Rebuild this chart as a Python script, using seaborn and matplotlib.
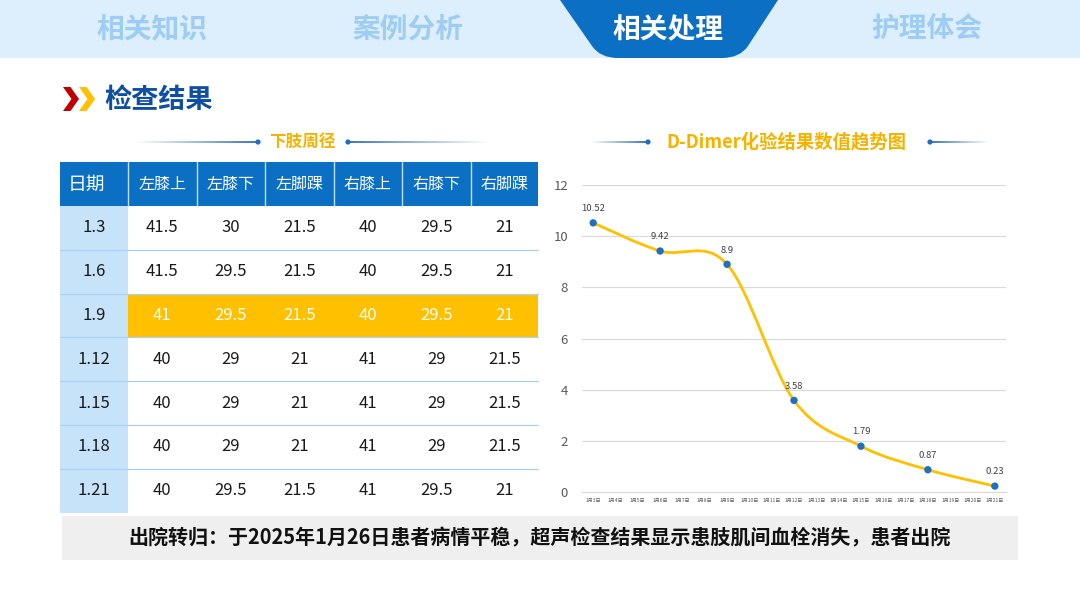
import numpy as np
import pandas as pd
import matplotlib
matplotlib.use("Agg")
import matplotlib.pyplot as plt
import seaborn as sns
from matplotlib.path import Path
from matplotlib.patches import PathPatch, Rectangle, Polygon, Circle
from matplotlib.collections import LineCollection
from matplotlib.colors import to_rgba

# ---------------- data ----------------
tabs = ["相关知识", "案例分析", "相关处理", "护理体会"]
active_tab = "相关处理"
page_title = "检查结果"
table_title = "下肢周径"
chart_title = "D-Dimer化验结果数值趋势图"

table_header = ["日期", "左膝上", "左膝下", "左脚踝", "右膝上", "右膝下", "右脚踝"]
table_dates = ["1.3", "1.6", "1.9", "1.12", "1.15", "1.18", "1.21"]
left_above_knee = [41.5, 41.5, 41, 40, 40, 40, 40]
left_below_knee = [30, 29.5, 29.5, 29, 29, 29, 29.5]
left_ankle = [21.5, 21.5, 21.5, 21, 21, 21, 21.5]
right_above_knee = [40, 40, 40, 41, 41, 41, 41]
right_below_knee = [29.5, 29.5, 29.5, 29, 29, 29, 29.5]
right_ankle = [21, 21, 21, 21.5, 21.5, 21.5, 21]
highlight_date = "1.9"

x_labels = ["1月3日", "1月4日", "1月5日", "1月6日", "1月7日", "1月8日", "1月9日",
            "1月10日", "1月11日", "1月12日", "1月13日", "1月14日", "1月15日",
            "1月16日", "1月17日", "1月18日", "1月19日", "1月20日", "1月21日"]
ddimer_days = ["1月3日", "1月6日", "1月9日", "1月12日", "1月15日", "1月18日", "1月21日"]
ddimer_values = [10.52, 9.42, 8.9, 3.58, 1.79, 0.87, 0.23]
y_ticks = [0, 2, 4, 6, 8, 10, 12]

footer_text = "出院转归：于2025年1月26日患者病情平稳，超声检查结果显示患肢肌间血栓消失，患者出院"

# ---------------- style ----------------
sns.set_theme(style="white")
plt.rcParams["font.family"] = ["Noto Sans CJK SC", "DejaVu Sans"]

BLUE = "#0B6FC3"
LIGHT_BAND = "#DDEEFC"
TAB_TEXT = "#9ECDF3"
TITLE_BLUE = "#0F4FA3"
GOLD = "#FFC000"
FIRST_COL = "#C6E3FA"
ROW_LINE = "#A8D1F2"

fig = plt.figure(figsize=(10.8, 6.08), dpi=100)
fig.patch.set_facecolor("white")

# overlay axes in pixel coordinates
bg = fig.add_axes([0, 0, 1, 1])
bg.set_xlim(0, 1080)
bg.set_ylim(608, 0)
bg.axis("off")

# top band
bg.add_patch(Rectangle((0, 0), 1080, 58, facecolor=LIGHT_BAND, edgecolor="none"))
# active tab shape
verts = [(560, 0), (592, 46), (600, 58), (618, 58), (722, 58), (740, 58), (748, 46), (778, 0), (560, 0)]
codes = [Path.MOVETO, Path.LINETO, Path.CURVE3, Path.CURVE3, Path.LINETO, Path.CURVE3, Path.CURVE3,
         Path.LINETO, Path.CLOSEPOLY]
bg.add_patch(PathPatch(Path(verts, codes), facecolor=BLUE, edgecolor="none"))
tab_x = [152, 408, 668, 927]
for t, x in zip(tabs, tab_x):
    bg.text(x, 30, t, ha="center", va="center", fontsize=20, fontweight="bold",
            color="white" if t == active_tab else TAB_TEXT)

# chevrons + page title
bg.add_patch(Polygon([(63, 87), (70.5, 87), (79, 99), (70.5, 111), (63, 111), (71.5, 99)],
                     closed=True, facecolor="#C00000", edgecolor="none"))
bg.add_patch(Polygon([(79, 87), (86.5, 87), (95, 99), (86.5, 111), (79, 111), (87.5, 99)],
                     closed=True, facecolor=GOLD, edgecolor="none"))
bg.text(104, 100, page_title, ha="left", va="center", fontsize=19.5, fontweight="bold", color=TITLE_BLUE)


def grad_line(x0, x1, y, fade_left):
    xs = np.linspace(x0, x1, 60)
    segs = [[(xs[i], y), (xs[i + 1], y)] for i in range(len(xs) - 1)]
    a = np.linspace(0.0, 1.0, len(segs))
    if not fade_left:
        a = a[::-1]
    cols = [to_rgba("#2E6DB4", v) for v in a]
    bg.add_collection(LineCollection(segs, colors=cols, linewidths=1.3))


def deco_title(text, cx, y, left_x0, left_x1, right_x0, right_x1, size):
    bg.text(cx, y, text, ha="center", va="center", fontsize=size, fontweight="bold", color="#F5B300")
    grad_line(left_x0, left_x1, y, True)
    grad_line(right_x0, right_x1, y, False)
    bg.add_patch(Circle((left_x1 + 2, y), 2.6, facecolor="#1F6FC0", edgecolor="none"))
    bg.add_patch(Circle((right_x0 - 2, y), 2.6, facecolor="#1F6FC0", edgecolor="none"))


deco_title(table_title, 302, 142, 135, 256, 350, 490, 12)
deco_title(chart_title, 786, 142, 590, 646, 932, 990, 13.2)

# ---------------- table ----------------
col_edges = [60, 128, 196.5, 265, 333.5, 402, 470.5, 538]
header_top, header_bot = 162, 206
row_h = (512.5 - 206) / len(table_dates)
df = pd.DataFrame({
    table_header[1]: left_above_knee, table_header[2]: left_below_knee,
    table_header[3]: left_ankle, table_header[4]: right_above_knee,
    table_header[5]: right_below_knee, table_header[6]: right_ankle,
}, index=table_dates)

bg.add_patch(Rectangle((col_edges[0], header_top), col_edges[-1] - col_edges[0], header_bot - header_top,
                       facecolor=BLUE, edgecolor="none"))
for xe in col_edges[1:-1]:
    bg.plot([xe, xe], [header_top, header_bot], color="#BFE0FA", lw=1.0)
for j, h in enumerate(table_header):
    if j == 0:
        bg.text(col_edges[0] + 8, (header_top + header_bot) / 2, h, ha="left", va="center",
                fontsize=13.5, color="white")
    else:
        bg.text((col_edges[j] + col_edges[j + 1]) / 2, (header_top + header_bot) / 2, h,
                ha="center", va="center", fontsize=11.5, color="white")

bg.add_patch(Rectangle((col_edges[0], header_bot), col_edges[1] - col_edges[0], row_h * len(table_dates),
                       facecolor=FIRST_COL, edgecolor="none"))
for i, d in enumerate(table_dates):
    top = header_bot + i * row_h
    cy = top + row_h / 2
    hl = d == highlight_date
    if hl:
        bg.add_patch(Rectangle((col_edges[1], top), col_edges[-1] - col_edges[1], row_h,
                               facecolor=GOLD, edgecolor="none"))
    if i > 0:
        bg.plot([col_edges[0], col_edges[-1]], [top, top], color=ROW_LINE, lw=0.9)
    bg.text((col_edges[0] + col_edges[1]) / 2, cy, d, ha="center", va="center", fontsize=12, color="#1a1a1a")
    for j, c in enumerate(df.columns):
        v = df.loc[d, c]
        s = f"{v:g}"
        bg.text((col_edges[j + 1] + col_edges[j + 2]) / 2, cy, s, ha="center", va="center",
                fontsize=12, color="white" if hl else "#1a1a1a")

# footer
bg.add_patch(Rectangle((62, 516), 956, 44, facecolor="#EFEFEF", edgecolor="none"))
bg.text(540, 538, footer_text, ha="center", va="center", fontsize=14.4, fontweight="bold", color="#111111")

# ---------------- chart ----------------
ax = fig.add_axes([582 / 1080, 1 - 492 / 608, 424 / 1080, (492 - 185) / 608])
ax.patch.set_alpha(0)
xpos = [x_labels.index(d) for d in ddimer_days]
cdf = pd.DataFrame({"x": xpos, "y": ddimer_values})

# smooth line (Catmull-Rom style cubic Bezier through the points, like Excel's smoothed line)
P = np.column_stack([cdf["x"].to_numpy(float), cdf["y"].to_numpy(float)])
n = len(P)
pv = [tuple(P[0])]
pc = [Path.MOVETO]
for i in range(n - 1):
    p0 = P[i - 1] if i > 0 else P[i]
    p1, p2 = P[i], P[i + 1]
    p3 = P[i + 2] if i + 2 < n else P[i + 1]
    c1 = p1 + (p2 - p0) / 6.0
    c2 = p2 - (p3 - p1) / 6.0
    pv += [tuple(c1), tuple(c2), tuple(p2)]
    pc += [Path.CURVE4] * 3
ax.add_patch(PathPatch(Path(pv, pc), fill=False, edgecolor=GOLD, lw=2.0, zorder=3, capstyle="round"))

sns.scatterplot(data=cdf, x="x", y="y", ax=ax, color="#1F6FC0", s=28, edgecolor="none", zorder=4, legend=False)
for x, y in zip(xpos, ddimer_values):
    ax.annotate(f"{y:g}", (x, y), xytext=(0, 7), textcoords="offset points", ha="center", va="bottom",
                fontsize=6.8, color="#404040")

ax.set_xlim(-0.5, len(x_labels) - 0.5)
ax.set_ylim(0, 12)
ax.set_yticks(y_ticks)
ax.set_xticks(range(len(x_labels)))
ax.set_xticklabels(x_labels, fontsize=3.6, color="#595959")
ax.tick_params(axis="y", labelsize=9.5, colors="#595959", length=0, pad=10)
ax.tick_params(axis="x", length=0, pad=4)
ax.set_xlabel("")
ax.set_ylabel("")
ax.grid(axis="y", color="#D9D9D9", lw=0.8)
ax.grid(axis="x", visible=False)
for s in ["top", "right", "left"]:
    ax.spines[s].set_visible(False)
ax.spines["bottom"].set_color("#D9D9D9")
ax.spines["bottom"].set_linewidth(0.8)

fig.savefig("out.png", dpi=100)
